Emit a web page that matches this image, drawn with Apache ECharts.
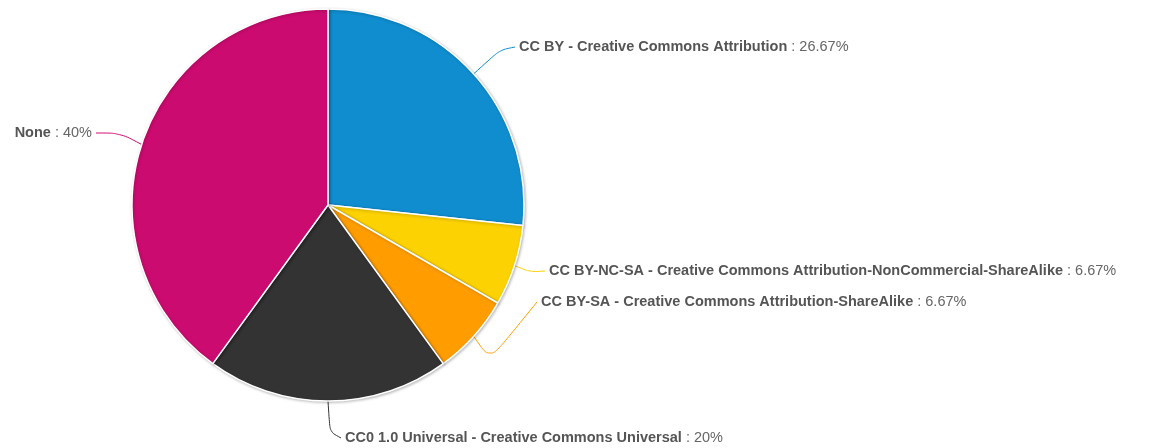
<!DOCTYPE html>
<html>
<head>
<meta charset="utf-8">
<script src="https://cdn.jsdelivr.net/npm/echarts@6/dist/echarts.min.js"></script>
<style>
  html, body { margin: 0; padding: 0; background: #fff; }
  #chart { width: 1153px; height: 448px; }
</style>
</head>
<body>
<div id="chart"></div>
<script>
const licenses = [
    'CC BY - Creative Commons Attribution',
    'CC BY-NC-SA - Creative Commons Attribution-NonCommercial-ShareAlike',
    'CC BY-SA - Creative Commons Attribution-ShareAlike',
    'CC0 1.0 Universal - Creative Commons Universal',
    'None'
]
const counts = [4, 1, 1, 3, 6]
const colors = ['#0f8dcf', '#fcd202', '#ff9d00', '#333333', '#cc0b70']

// where each label text sits (left/right anchor), and line bend
const labelPos = [
    {x: 519, y: 47, align: 'left', bend: [500, 50]},
    {x: 549, y: 271, align: 'left', bend: [530, 272]},
    {x: 541, y: 302, align: 'left', bend: [490, 360]},
    {x: 345, y: 438, align: 'left', bend: [330, 432]},
    {x: 92, y: 133, align: 'right', bend: [120, 133]}
]

const total = counts.reduce((a, b) => a + b, 0)

const chart = echarts.init(document.getElementById('chart'))

chart.setOption({
    animation: false,
    series: [{
        type: 'pie',
        center: [328, 205],
        radius: [0, 196],
        startAngle: 90,
        clockwise: true,
        color: colors,
        itemStyle: {
            borderColor: '#ffffff',
            borderWidth: 1.5,
            shadowColor: 'rgba(0,0,0,0.25)',
            shadowBlur: 3,
            shadowOffsetX: 1,
            shadowOffsetY: 1
        },
        label: {
            show: true,
            position: 'outside',
            fontFamily: 'Liberation Sans',
            fontSize: 14.5,
            color: '#666666',
            formatter: function (params) {
                // plain rounding, so both 1/15 slices read 6.67%
                const pct = parseFloat((params.value / total * 100).toFixed(2))
                return '{n|' + params.name + '} : ' + pct + '%'
            },
            rich: {
                n: {
                    fontFamily: 'Liberation Sans',
                    fontSize: 14.5,
                    fontWeight: 'bold',
                    color: '#555555'
                }
            }
        },
        labelLine: {
            show: true,
            smooth: true,
            lineStyle: {width: 1}
        },
        labelLayout: function (params) {
            const p = labelPos[params.dataIndex]
            const start = params.labelLinePoints ? params.labelLinePoints[0] : [p.x, p.y]
            const endX = p.align === 'left' ? p.x - 4 : p.x + 4
            return {
                x: p.x,
                y: p.y,
                align: p.align,
                verticalAlign: 'middle',
                labelLinePoints: [start, p.bend, [endX, p.y]]
            }
        },
        data: licenses.map((name, i) => ({name: name, value: counts[i]}))
    }]
})
</script>
</body>
</html>
